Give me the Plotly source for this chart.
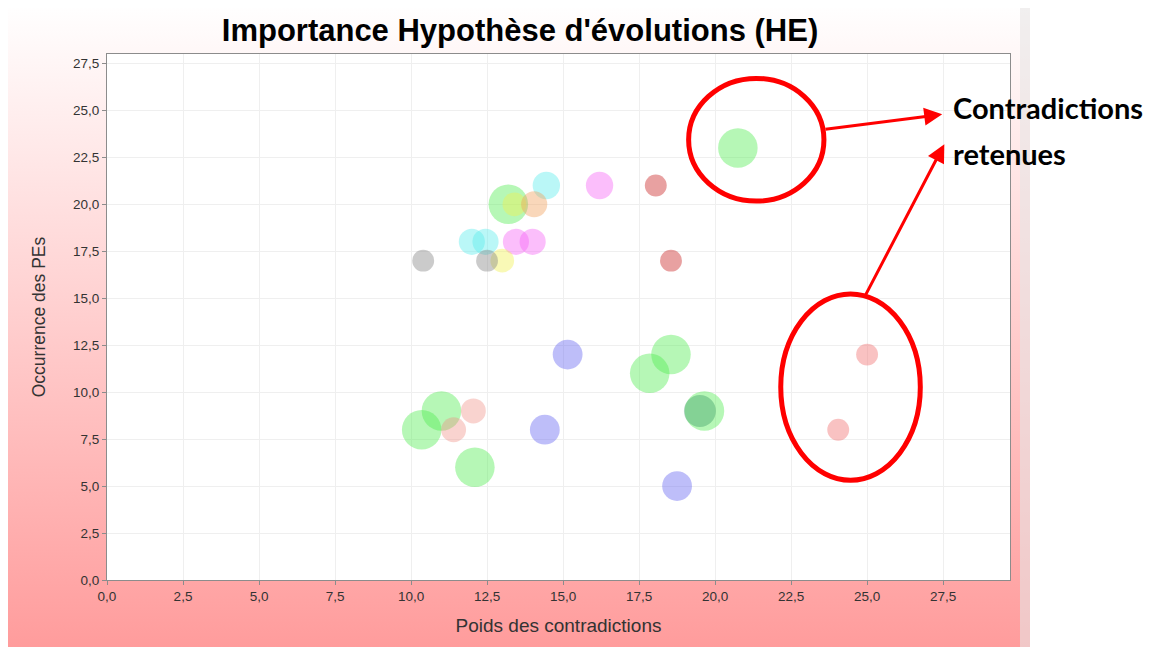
import base64
import plotly.graph_objects as go

# ---- data ----
poids = [20.75, 14.45, 16.2, 18.05, 13.2, 13.4, 14.05, 12.0, 12.45, 13.45, 14.0,
         10.4, 12.5, 13.0, 18.55, 15.15, 18.55, 17.85, 11.0, 12.05, 19.65, 19.5,
         10.35, 11.4, 14.4, 12.1, 18.75, 25.0, 24.05]
occurrence = [23, 21, 21, 21, 20, 20, 20, 18, 18, 18, 18,
              17, 17, 17, 17, 12, 12, 11, 9, 9, 9, 9,
              8, 8, 8, 6, 5, 12, 8]
importance = [1.3, 0.9, 0.9, 0.72, 1.3, 0.78, 0.86, 0.86, 0.86, 0.86, 0.86,
              0.72, 0.72, 0.78, 0.72, 0.98, 1.3, 1.3, 1.3, 0.82, 1.3, 1.05,
              1.3, 0.82, 0.98, 1.3, 0.98, 0.72, 0.72]
groupe = ["vert", "cyan", "magenta", "rouge fonce", "vert", "jaune", "orange", "cyan", "cyan",
          "magenta", "magenta", "gris", "gris", "jaune", "rouge fonce", "bleu", "vert", "vert",
          "vert", "saumon", "vert", "vert fonce", "vert", "saumon", "bleu", "vert", "bleu",
          "rouge", "rouge"]

x_ticks = [0, 2.5, 5, 7.5, 10, 12.5, 15, 17.5, 20, 22.5, 25, 27.5]
y_ticks = [0, 2.5, 5, 7.5, 10, 12.5, 15, 17.5, 20, 22.5, 25, 27.5]

colors = {
    "vert": "rgba(80,235,80,0.6)",
    "cyan": "rgba(90,235,235,0.6)",
    "magenta": "rgba(245,100,245,0.6)",
    "rouge fonce": "rgba(200,30,30,0.6)",
    "jaune": "rgba(240,240,80,0.6)",
    "orange": "rgba(240,160,90,0.6)",
    "gris": "rgba(130,130,130,0.6)",
    "bleu": "rgba(100,100,240,0.6)",
    "saumon": "rgba(240,140,130,0.55)",
    "vert fonce": "rgba(40,140,90,0.5)",
    "rouge": "rgba(240,110,110,0.6)",
}

fig = go.Figure()
order = ["vert", "cyan", "magenta", "rouge fonce", "jaune", "orange", "gris", "bleu",
         "saumon", "vert fonce", "rouge"]
for g in order:
    idx = [i for i, v in enumerate(groupe) if v == g]
    fig.add_trace(go.Scatter(
        x=[poids[i] for i in idx], y=[occurrence[i] for i in idx],
        mode="markers", name=g, showlegend=False,
        marker=dict(size=[importance[i] for i in idx], sizemode="diameter",
                    sizeref=1 / 30.4, color=colors[g], line=dict(width=0)),
        cliponaxis=True,
    ))

# page offset (body margin) = 8px
OFF = 8
W, H = 1161 - OFF, 647 - OFF
PL, PT, PR, PB = 107, 54, 1010, 580  # plot area in page px
pw, ph = PR - PL, PB - PT

# background gradient (chart panel)
svg = ('<svg xmlns="http://www.w3.org/2000/svg" width="1027" height="644" preserveAspectRatio="none">'
       '<defs><linearGradient id="g" x1="0" y1="0" x2="0" y2="1">'
       '<stop offset="0" stop-color="#ffffff"/><stop offset="1" stop-color="#ff9c9c"/>'
       '</linearGradient></defs>'
       '<rect x="0" y="0" width="1027" height="644" fill="url(#g)"/>'
       '<rect x="1017" y="0" width="10" height="644" fill="#e8e4e4" fill-opacity="0.6"/>'
       '</svg>')
src = "data:image/svg+xml;base64," + base64.b64encode(svg.encode()).decode()

fig.add_layout_image(dict(source=src, xref="paper", yref="paper",
                          x=(3 - PL) / pw, y=1 + (PT - 3) / ph,
                          sizex=1027 / pw, sizey=644 / ph,
                          xanchor="left", yanchor="top", sizing="stretch", layer="below"))

shapes = [
    dict(type="rect", xref="paper", yref="paper", x0=0, x1=1, y0=0, y1=1,
         fillcolor="white", line=dict(width=0), layer="below"),
    dict(type="circle", xref="x", yref="y", x0=19.13, x1=23.58, y0=20.17, y1=26.7,
         line=dict(color="#ff0000", width=5)),
    dict(type="circle", xref="x", yref="y", x0=22.16, x1=26.75, y0=5.31, y1=15.23,
         line=dict(color="#ff0000", width=5)),
]

annotations = [
    dict(x=27.47, y=24.79, ax=23.58, ay=23.99, xref="x", yref="y", axref="x", ayref="y",
         showarrow=True, arrowhead=2, arrowsize=1.2, arrowwidth=3, arrowcolor="#ff0000", text=""),
    dict(x=27.54, y=23.2, ax=24.9, ay=15.02, xref="x", yref="y", axref="x", ayref="y",
         showarrow=True, arrowhead=2, arrowsize=1.2, arrowwidth=3, arrowcolor="#ff0000", text=""),
    dict(x=27.75, y=25.16, xref="x", yref="y", text="<b>Contradictions</b>", showarrow=False,
         xanchor="left", yanchor="middle", font=dict(family="Lato", size=29, color="black")),
    dict(x=27.75, y=22.72, xref="x", yref="y", text="<b>retenues</b>", showarrow=False,
         xanchor="left", yanchor="middle", font=dict(family="Lato", size=29, color="black")),
]

axis_common = dict(showgrid=True, gridcolor="#efefef", gridwidth=1, zeroline=False,
                   showline=True, linecolor="#8c8c8c", linewidth=1, mirror=True,
                   ticks="outside", ticklen=4, tickcolor="#8c8c8c",
                   tickfont=dict(family="Liberation Sans", size=13.5, color="#333333"),
                   tickformat=".1f")

fig.update_layout(
    width=W, height=H,
    margin=dict(l=PL - OFF, r=W + OFF - PR, t=PT - OFF, b=H + OFF - PB, autoexpand=False),
    paper_bgcolor="white", plot_bgcolor="rgba(0,0,0,0)",
    separators=", ",
    title=dict(text="<b>Importance Hypothèse d'évolutions (HE)</b>",
               x=((222 + 818) / 2 - OFF) / W, xanchor="center", y=1 - (30 - OFF) / H, yanchor="middle",
               font=dict(family="Liberation Sans, Arial", size=31, color="black")),
    xaxis=dict(range=[0, 29.7], tickvals=x_ticks,
               title=dict(text="Poids des contradictions", standoff=15,
                          font=dict(family="Liberation Sans", size=19, color="#333333")),
               **axis_common),
    yaxis=dict(range=[0, 28.0], tickvals=y_ticks,
               title=dict(text="Occurrence des PEs", standoff=22,
                          font=dict(family="Liberation Sans", size=17.5, color="#333333")),
               **axis_common),
    shapes=shapes,
    annotations=annotations,
)

fig.write_html("out.html")
